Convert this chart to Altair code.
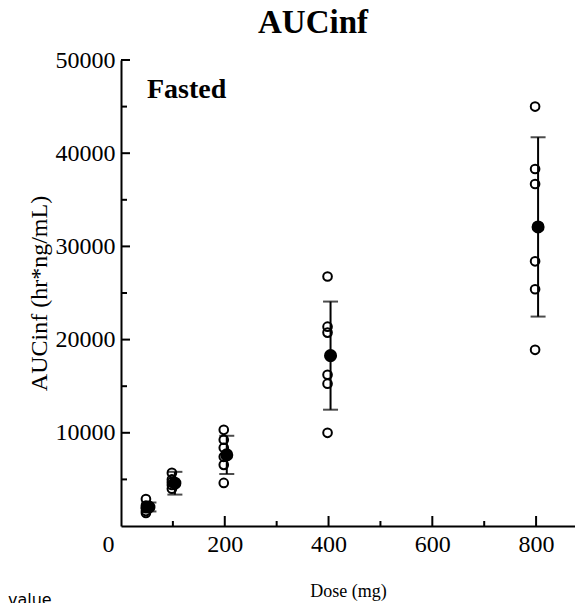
import altair as alt
import pandas as pd

# ---- data ----
doses = [50, 100, 200, 400, 800]
auc_50 = [2900, 2200, 2000, 1900, 1600, 1400]
auc_100 = [5700, 5000, 4700, 4400, 4000]
auc_200 = [10320, 9250, 8400, 7420, 6560, 4620]
auc_400 = [26770, 21390, 20750, 16230, 15270, 10000]
auc_800 = [45000, 38300, 36700, 28400, 25400, 18900]
mean_auc = [2040, 4590, 7630, 18280, 32090]
sd_auc = [480, 1220, 2050, 5800, 9620]

y_major = [10000, 20000, 30000, 40000, 50000]
y_minor = [5000, 15000, 25000, 35000, 45000]
x_major = [200, 400, 600, 800]
x_minor = [100, 300, 500, 700]
x_labels = [0, 200, 400, 600, 800]

indiv = pd.DataFrame(
    [(d, v) for d, vals in zip(doses, [auc_50, auc_100, auc_200, auc_400, auc_800]) for v in vals],
    columns=["dose", "auc"],
)
summ = pd.DataFrame({"dose": doses, "mean": mean_auc, "sd": sd_auc})
summ["lo"] = summ["mean"] - summ["sd"]
summ["hi"] = summ["mean"] + summ["sd"]
summ["series"] = "Mean"

SERIF = "Liberation Serif"

xscale = alt.Scale(domain=[0, 875], nice=False, zero=False)
yscale = alt.Scale(domain=[0, 50000], nice=False)

xaxis = alt.Axis(
    values=x_labels, ticks=False, grid=False, title="Dose (mg)", format="d",
    labelFont=SERIF, labelFontSize=24, labelColor="black", labelPadding=6,
    labelAlign={"condition": {"test": "datum.value == 0", "value": "right"}, "value": "center"},
    labelOffset={"condition": {"test": "datum.value == 0", "value": -7}, "value": 0},
    titleFont=SERIF, titleFontSize=18, titleFontWeight="normal", titleColor="black",
    titlePadding=26, domainColor="black", domainWidth=2, labelFlush=False,
)
yaxis = alt.Axis(
    values=y_major, ticks=False, grid=False, title="AUCinf (hr*ng/mL)", format="d",
    labelFont=SERIF, labelFontSize=24, labelColor="black", labelPadding=6,
    titleFont=SERIF, titleFontSize=24, titleFontWeight="normal", titleColor="black",
    titlePadding=4, domainColor="black", domainWidth=2,
)

base_i = alt.Chart(indiv)
base_s = alt.Chart(summ)

points = base_i.mark_point(shape="circle", filled=False, color="black", strokeWidth=2, size=75, opacity=1).encode(
    x=alt.X("dose:Q", scale=xscale, axis=xaxis),
    y=alt.Y("auc:Q", scale=yscale, axis=yaxis),
    xOffset=alt.value(-1),
)

err = base_s.mark_rule(color="black", strokeWidth=2).encode(
    x=alt.X("dose:Q", scale=xscale), y=alt.Y("lo:Q", scale=yscale), y2="hi:Q",
    xOffset=alt.value(2),
)
cap_hi = base_s.mark_tick(color="black", thickness=2, size=15, orient="horizontal").encode(
    x=alt.X("dose:Q", scale=xscale), y=alt.Y("hi:Q", scale=yscale), xOffset=alt.value(2),
)
cap_lo = base_s.mark_tick(color="black", thickness=2, size=15, orient="horizontal").encode(
    x=alt.X("dose:Q", scale=xscale), y=alt.Y("lo:Q", scale=yscale), xOffset=alt.value(2),
)
means = base_s.mark_circle(size=170, opacity=1).encode(
    x=alt.X("dose:Q", scale=xscale), y=alt.Y("mean:Q", scale=yscale),
    xOffset=alt.value(2),
    color=alt.Color("series:N", scale=alt.Scale(range=["black"]),
                    legend=alt.Legend(title="value", orient="none", legendX=-113, legendY=532,
                                      titleFont="DejaVu Sans", titleFontSize=16,
                                      titleFontWeight="normal", titleColor="black")),
)

ymaj = alt.Chart(pd.DataFrame({"v": y_major})).mark_rule(color="black", strokeWidth=2).encode(
    y=alt.Y("v:Q", scale=yscale), x=alt.value(0), x2=alt.value(9))
ymin = alt.Chart(pd.DataFrame({"v": y_minor})).mark_rule(color="black", strokeWidth=2).encode(
    y=alt.Y("v:Q", scale=yscale), x=alt.value(0), x2=alt.value(6))
xmaj = alt.Chart(pd.DataFrame({"v": x_major})).mark_rule(color="black", strokeWidth=2).encode(
    x=alt.X("v:Q", scale=xscale), y=alt.value(466), y2=alt.value(456))
xmin = alt.Chart(pd.DataFrame({"v": x_minor})).mark_rule(color="black", strokeWidth=2).encode(
    x=alt.X("v:Q", scale=xscale), y=alt.value(466), y2=alt.value(461))

label = alt.Chart(pd.DataFrame({"t": ["Fasted"]})).mark_text(
    font=SERIF, fontSize=28, fontWeight="bold", align="left", baseline="middle", color="black"
).encode(text="t:N", x=alt.value(26), y=alt.value(30))

chart = alt.layer(points, err, cap_hi, cap_lo, means, ymaj, ymin, xmaj, xmin, label).properties(
    width=454, height=466,
    autosize=alt.AutoSizeParams(type="none"),
    padding={"left": 121, "top": 60, "right": 0, "bottom": 77},
    title=alt.TitleParams("AUCinf", font=SERIF, fontSize=33, fontWeight="bold", color="black",
                          anchor="middle", offset=8, dx=-35),
    background="white",
).configure_view(stroke=None)

chart.save("out.html", embed_options={"renderer": "svg", "actions": False})
